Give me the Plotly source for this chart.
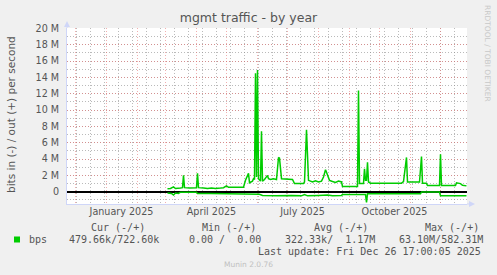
import plotly.graph_objects as go

# ---------------- data ----------------
out_dates = ["2025-03-03", "2025-03-06", "2025-03-09", "2025-03-11", "2025-03-16", "2025-03-18",
             "2025-03-19", "2025-03-20", "2025-03-25", "2025-03-30", "2025-04-01", "2025-04-02",
             "2025-04-03", "2025-04-08", "2025-04-12", "2025-04-16", "2025-04-20", "2025-04-25",
             "2025-04-28", "2025-05-01", "2025-05-03", "2025-05-10", "2025-05-18", "2025-05-20",
             "2025-05-23", "2025-05-24", "2025-05-27", "2025-05-28", "2025-05-29", "2025-05-30",
             "2025-05-31", "2025-06-01", "2025-06-02", "2025-06-04", "2025-06-05", "2025-06-06",
             "2025-06-08", "2025-06-11", "2025-06-12", "2025-06-14", "2025-06-17", "2025-06-20",
             "2025-06-22", "2025-06-23", "2025-06-25", "2025-07-06", "2025-07-08", "2025-07-17",
             "2025-07-18", "2025-07-20", "2025-07-22", "2025-07-26", "2025-07-29", "2025-08-01",
             "2025-08-04", "2025-08-06", "2025-08-08", "2025-08-09", "2025-08-12", "2025-08-15",
             "2025-08-18", "2025-08-21", "2025-08-24", "2025-08-25", "2025-09-09", "2025-09-10",
             "2025-09-11", "2025-09-15", "2025-09-16", "2025-09-17", "2025-09-18", "2025-09-19",
             "2025-09-20", "2025-09-22", "2025-10-23", "2025-10-25", "2025-10-28", "2025-10-29",
             "2025-11-10", "2025-11-12", "2025-11-13", "2025-11-17", "2025-11-18", "2025-11-30",
             "2025-12-01", "2025-12-02", "2025-12-16", "2025-12-17", "2025-12-19", "2025-12-21",
             "2025-12-23", "2025-12-27"]
out_mbps = [0.37, 0.40, 0.60, 0.40, 0.45, 0.50,
            2.00, 0.50, 0.45, 0.42, 0.50, 2.25,
            0.50, 0.45, 0.40, 0.45, 0.40, 0.45,
            0.50, 0.72, 0.55, 0.55, 0.55, 1.40,
            2.25, 1.10, 1.30, 1.60, 1.50, 14.5,
            1.80, 14.9, 1.60, 1.30, 7.40, 1.30,
            1.50, 2.00, 1.60, 1.50, 1.60, 1.50,
            4.20, 4.10, 1.60, 1.50, 1.00, 1.00,
            1.20, 7.60, 1.40, 1.20, 1.35, 1.20,
            1.30, 1.80, 2.70, 2.40, 1.40, 1.25,
            1.15, 1.30, 1.20, 0.65, 0.65, 12.4,
            1.00, 1.00, 2.80, 1.40, 1.40, 3.60,
            1.20, 1.05, 1.05, 1.25, 4.20, 1.20,
            1.20, 4.30, 1.05, 1.05, 0.77, 0.77,
            4.60, 0.77, 0.77, 1.10, 1.05, 1.00,
            0.80, 0.72]

in_dates = ["2025-03-03", "2025-03-07", "2025-03-09", "2025-03-11", "2025-03-14", "2025-03-16",
            "2025-04-01", "2025-04-02", "2025-04-15", "2025-05-01", "2025-05-15", "2025-06-03",
            "2025-06-06", "2025-06-20", "2025-07-05", "2025-07-15", "2025-07-18", "2025-07-21",
            "2025-08-01", "2025-08-10", "2025-08-15", "2025-08-24", "2025-08-25", "2025-09-17",
            "2025-09-18", "2025-09-19", "2025-11-11", "2025-11-12", "2025-11-30", "2025-12-01",
            "2025-12-27"]
in_mbps = [0.15, 0.20, 0.40, 0.15, 0.20, 0.05,
           0.05, 0.22, 0.20, 0.22, 0.20, 0.30,
           0.45, 0.50, 0.45, 0.50, 0.35, 0.50,
           0.45, 0.40, 0.50, 0.45, 0.35, 0.35,
           1.30, 0.25, 0.25, 0.03, 0.03, 0.48,
           0.48]

y_tick_vals = [0, 2e6, 4e6, 6e6, 8e6, 10e6, 12e6, 14e6, 16e6, 18e6, 20e6]
y_tick_text = ["0", "2 M", "4 M", "6 M", "8 M", "10 M", "12 M", "14 M", "16 M", "18 M", "20 M"]
month_starts = ["2024-12-01", "2025-01-01", "2025-02-01", "2025-03-01", "2025-04-01", "2025-05-01",
                "2025-06-01", "2025-07-01", "2025-08-01", "2025-09-01", "2025-10-01", "2025-11-01",
                "2025-12-01"]
x_label_dates = ["2025-01-16", "2025-04-16", "2025-07-16", "2025-10-16"]
x_label_text = ["January 2025", "April 2025", "July 2025", "October 2025"]
x_range = ["2024-11-22 12:00", "2025-12-27 12:00"]

title_text = "mgmt traffic - by year"
y_title = "bits in (-) / out (+) per second"
series_name = "bps"
legend_headers = ["Cur (-/+)", "Min (-/+)", "Avg (-/+)", "Max (-/+)"]
legend_values = ["479.66k/722.60k", "0.00 /  0.00", "322.33k/  1.17M", "63.10M/582.31M"]
last_update = "Last update: Fri Dec 26 17:00:05 2025"
footer = "Munin 2.0.76"
side_text = "RRDTOOL / TOBI OETIKER"

# ---------------- layout geometry ----------------
W, H = 497, 275
L, R, T, B = 67, 30, 28, 71
PW, PH = W - L - R, H - T - B

def px(xp):
    return (xp - L) / PW

def py(yp):
    return (H - B - yp) / PH

GREEN = "#00CC00"
TXT = "#555555"
AXIS = "#CFD6F8"
MGRID = "rgba(230,110,110,0.55)"
GRID = "rgba(140,140,140,0.6)"

fig = go.Figure()
fig.add_trace(go.Scatter(x=out_dates, y=[v * 1e6 for v in out_mbps], mode="lines",
                         line=dict(color=GREEN, width=1.5), showlegend=False, hoverinfo="skip"))
fig.add_trace(go.Scatter(x=in_dates, y=[-v * 1e6 for v in in_mbps], mode="lines",
                         line=dict(color=GREEN, width=1.5), showlegend=False, hoverinfo="skip"))
fig.add_trace(go.Scatter(x=[], y=[], xaxis="x2", showlegend=False, hoverinfo="skip"))

fig.update_layout(
    width=W, height=H,
    margin=dict(l=L, r=R, t=T, b=B, pad=0),
    paper_bgcolor="#F0F0F0", plot_bgcolor="#FFFFFF",
    font=dict(family="DejaVu Sans", size=9.6, color=TXT),
    title=dict(text=title_text, x=0.5, xanchor="center", y=1 - 18 / H, yanchor="middle",
               font=dict(family="DejaVu Sans", size=12.5, color=TXT)),
    xaxis=dict(type="date", range=x_range, tickmode="array", tickvals=month_starts,
               showticklabels=False, ticks="", showgrid=True, gridcolor=MGRID,
               griddash="1px,2px", gridwidth=1,
               minor=dict(tick0="2024-12-02", dtick=14 * 86400000, showgrid=True,
                          gridcolor=GRID, griddash="1px,2px", gridwidth=1, ticks=""),
               showline=True, linecolor=AXIS, linewidth=1, zeroline=False),
    xaxis2=dict(type="date", range=x_range, overlaying="x", anchor="y", side="bottom",
                tickmode="array", tickvals=x_label_dates, ticktext=x_label_text,
                showgrid=False, ticks="", showline=False, zeroline=False,
                tickfont=dict(family="DejaVu Sans", size=9.6, color=TXT)),
    yaxis=dict(range=[-1.5e6, 20.05e6], tickmode="array", tickvals=y_tick_vals,
               ticktext=y_tick_text, ticks="", ticklabelstandoff=5,
               showgrid=True, gridcolor=MGRID, griddash="1px,2px", gridwidth=1,
               minor=dict(dtick=1e6, tick0=0, showgrid=True, gridcolor=GRID,
                          griddash="1px,2px", gridwidth=1, ticks=""),
               zeroline=True, zerolinecolor="#000000", zerolinewidth=1.5,
               showline=True, linecolor=AXIS, linewidth=1,
               tickfont=dict(family="DejaVu Sans", size=9.6, color=TXT)),
)

# axis arrows
shapes = [
    dict(type="line", xref="paper", yref="paper", x0=1, x1=px(471), y0=0, y1=0,
         line=dict(color=AXIS, width=1)),
    dict(type="path", xref="paper", yref="paper",
         path=f"M {px(469)} {py(H-B-3)} L {px(475)} {py(H-B)} L {px(469)} {py(H-B+3)} Z",
         fillcolor=AXIS, line=dict(color=AXIS, width=0)),
    dict(type="line", xref="paper", yref="paper", x0=0, x1=0, y0=1, y1=py(T - 4),
         line=dict(color=AXIS, width=1)),
    dict(type="path", xref="paper", yref="paper",
         path=f"M {px(L-3)} {py(T-1)} L {px(L)} {py(T-7)} L {px(L+3)} {py(T-1)} Z",
         fillcolor=AXIS, line=dict(color=AXIS, width=0)),
    # legend colour box
    dict(type="rect", xref="paper", yref="paper", x0=px(14), x1=px(20), y0=py(236.5), y1=py(242.5),
         fillcolor=GREEN, line=dict(width=0)),
]
fig.update_layout(shapes=shapes)

MONO = dict(family="DejaVu Sans Mono", size=10, color=TXT)
ann = []
ann.append(dict(text=y_title, x=px(11), y=py(115), xref="paper", yref="paper", showarrow=False,
                textangle=-90, xanchor="center", yanchor="middle",
                font=dict(family="DejaVu Sans", size=10.5, color=TXT)))
ann.append(dict(text=side_text, x=px(488), y=py(53), xref="paper", yref="paper", showarrow=False,
                textangle=90, xanchor="center", yanchor="middle",
                font=dict(family="DejaVu Sans", size=7.5, color="#C8C8C8")))
for hx, h in zip([89.3, 200, 311.7, 422.7], legend_headers):
    ann.append(dict(text=h, x=px(hx), y=py(227.7), xref="paper", yref="paper", showarrow=False,
                    xanchor="left", yanchor="middle", font=MONO))
ann.append(dict(text=series_name, x=px(26.7), y=py(239.3), xref="paper", yref="paper",
                showarrow=False, xanchor="left", yanchor="middle", font=MONO))
for vx, v in zip([66.7, 186.7, 282.7, 397.3], legend_values):
    ann.append(dict(text=v.replace(" ", "&nbsp;"), x=px(vx), y=py(239.3), xref="paper", yref="paper",
                    showarrow=False, xanchor="left", yanchor="middle", font=MONO))
ann.append(dict(text=last_update, x=px(482.7), y=py(251.7), xref="paper", yref="paper",
                showarrow=False, xanchor="right", yanchor="middle", font=MONO))
ann.append(dict(text=footer, x=px(248), y=py(264), xref="paper", yref="paper", showarrow=False,
                xanchor="center", yanchor="middle",
                font=dict(family="DejaVu Sans", size=7.5, color="#C0C0C0")))
fig.update_layout(annotations=ann)

fig.write_html("out.html")
